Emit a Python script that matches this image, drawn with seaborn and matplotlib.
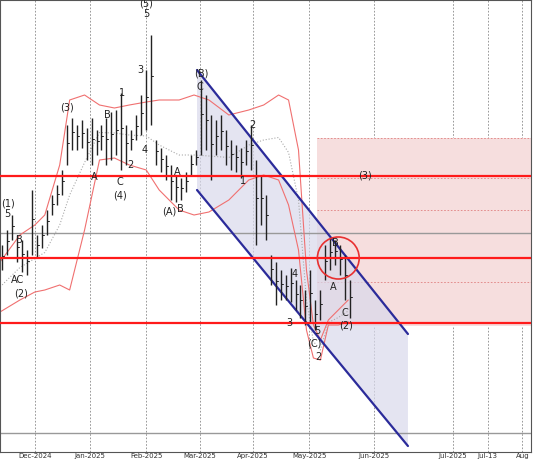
import numpy as np
import seaborn as sns
import matplotlib.pyplot as plt
from matplotlib.patches import Rectangle, Polygon, Ellipse

sns.set_style("white")

# ---- data (x = chart position, y = level in chart units, top = 0) ----
bar_x = [2, 7, 12, 17, 22, 27, 32, 37, 42, 47, 52, 57, 62, 67, 72, 77, 82, 87, 92,
         97, 102, 107, 112, 117, 122, 127, 132, 137, 142, 147, 152, 157, 162, 167,
         172, 177, 182, 187, 192, 197, 202, 207, 212, 217, 222, 227, 232, 237, 242,
         247, 252, 257, 262, 267, 272, 277, 282, 287, 292, 297, 302, 307, 312, 317,
         322, 327, 332, 337, 342, 347, 352]
bar_hi = [245, 230, 215, 235, 240, 250, 190, 235, 225, 210, 195, 185, 170, 125, 118,
          125, 120, 128, 118, 130, 125, 118, 112, 110, 93, 125, 130, 115, 95, 70, 35,
          140, 148, 155, 165, 175, 178, 172, 155, 150, 80, 95, 115, 120, 115, 130, 140,
          145, 148, 140, 125, 160, 175, 195, 255, 262, 270, 275, 268, 280, 285, 290,
          270, 300, 290, 245, 238, 240, 245, 255, 280]
bar_lo = [270, 255, 240, 262, 272, 275, 255, 258, 248, 235, 215, 205, 195, 165, 150,
          150, 148, 160, 165, 155, 150, 165, 160, 155, 170, 165, 150, 140, 135, 130,
          125, 165, 172, 180, 200, 202, 200, 192, 175, 165, 155, 150, 180, 155, 150,
          165, 170, 172, 178, 165, 170, 245, 225, 240, 285, 305, 300, 300, 302, 310,
          318, 325, 322, 330, 320, 280, 270, 265, 275, 300, 318]

bb_x = [0, 20, 35, 45, 60, 70, 85, 100, 115, 130, 147, 160, 180, 195, 210, 230, 250,
        265, 280, 290, 300, 308, 315, 322, 330, 340, 350]
bb_up = [262, 235, 225, 215, 165, 100, 95, 105, 108, 105, 102, 100, 100, 95, 100,
         115, 110, 105, 95, 100, 150, 270, 325, 340, 320, 310, 300]
bb_lo = [312, 300, 292, 290, 285, 290, 230, 160, 158, 165, 170, 190, 210, 215, 212,
         200, 180, 175, 180, 205, 250, 330, 358, 360, 325, 325, 322]

red_levels = [176, 258, 323]
gray_levels = [233, 433]
fib_levels = [138, 178, 210, 282]
chan_upper = [(198, 70), (410, 334)]
chan_lower = [(198, 190), (410, 446)]

tick_pos = [35, 90, 147, 201, 254, 311, 376, 455, 490, 525]
tick_lab = ["Dec-2024", "Jan-2025", "Feb-2025", "Mar-2025", "Apr-2025", "May-2025",
            "Jun-2025", "Jul-2025", "Jul-13", "Aug"]

labels = [("(1)", 8, 203), ("5", 7, 214), ("B", 19, 240), ("AC", 18, 280), ("(2)", 21, 293),
          ("(3)", 67, 108), ("A", 95, 177), ("B", 108, 115), ("1", 123, 93), ("C", 120, 182),
          ("(4)", 121, 195), ("2", 131, 165), ("3", 141, 70), ("4", 145, 150), ("5", 147, 14),
          ("(5)", 147, 3), ("A", 178, 172), ("(A)", 170, 212), ("B", 181, 209),
          ("(B)", 202, 74), ("C", 201, 87), ("1", 244, 181), ("2", 254, 125), ("4", 296, 274),
          ("3", 291, 323), ("5", 319, 331), ("(C)", 316, 343), ("2", 320, 357),
          ("B", 337, 243), ("A", 335, 287), ("C", 347, 313), ("(2)", 348, 326), ("(3)", 367, 175)]

fig = plt.figure(figsize=(5.34, 4.62), dpi=100)
ax = fig.add_axes([0.0, 10 / 462, 0.995, 452 / 462])
ax.set_xlim(0, 534)
ax.set_ylim(452, 0)

# grid
for p in tick_pos:
    ax.axvline(p, color='#888888', ls=(0, (2, 2)), lw=0.6, zorder=0)

# target zone
ax.add_patch(Rectangle((319, 138), 240, 188, facecolor='#f6dede', edgecolor='none', zorder=0.5))
for lv in fib_levels:
    ax.plot([319, 534], [lv, lv], color='#e08080', ls=(0, (2, 2)), lw=0.6, zorder=0.6)

# channel
poly = [chan_upper[0], chan_upper[1], chan_lower[1], chan_lower[0]]
ax.add_patch(Polygon(poly, closed=True, facecolor='#d9d9ec', alpha=0.7, edgecolor='none', zorder=0.7))
ax.plot(*zip(*chan_upper), color='#2b2b9a', lw=1.6, zorder=3)
ax.plot(*zip(*chan_lower), color='#2b2b9a', lw=1.6, zorder=3)

for lv in gray_levels:
    ax.axhline(lv, color='#999999', lw=1.0, zorder=1)
for lv in red_levels:
    ax.axhline(lv, color='#ff1a1a', lw=1.6, zorder=4)

# bollinger
sns.lineplot(x=bb_x, y=bb_up, ax=ax, color='#f07070', lw=0.8, zorder=2)
sns.lineplot(x=bb_x, y=bb_lo, ax=ax, color='#f07070', lw=0.8, zorder=2)
bb_mid = (np.array(bb_up) + np.array(bb_lo)) / 2
ax.plot(bb_x, bb_mid, color='#aaaaaa', ls=':', lw=0.8, zorder=2)

# price bars
ax.vlines(bar_x, bar_hi, bar_lo, color='#222222', lw=1.0, zorder=3)
for x, h, l in zip(bar_x, bar_hi, bar_lo):
    c = h + (l - h) * 0.45
    ax.plot([x, x + 2], [c, c], color='#222222', lw=0.7, zorder=3)

ax.add_patch(Ellipse((340, 258), 42, 42, facecolor='none', edgecolor='#e83030', lw=1.2, zorder=5))

for t, x, y in labels:
    ax.text(x, y, t, ha='center', va='center', fontsize=7, color='#222222', zorder=6)

ax.set_xticks(tick_pos)
ax.set_xticklabels(tick_lab, fontsize=5, color='#333333')
ax.tick_params(axis='x', length=0, pad=1)
ax.set_yticks([])
for s in ax.spines.values():
    s.set_color('#555555')
    s.set_linewidth(0.8)

fig.savefig("out.png", dpi=100)
